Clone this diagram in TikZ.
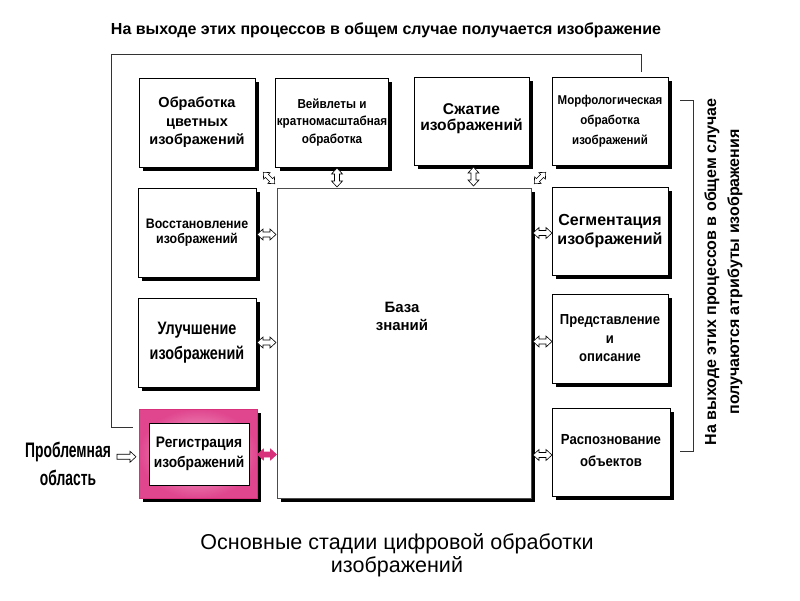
\documentclass[tikz,border=0pt]{standalone}
\usepackage{fontspec}
\setmainfont{Liberation Sans}
\newfontfamily\cnd[FakeStretch=0.9]{Liberation Sans}
\newfontfamily\cnu[FakeStretch=0.8]{Liberation Sans}
\newfontfamily\cndd[FakeStretch=0.66]{Liberation Sans}
\usetikzlibrary{shadows,calc}
\definecolor{pinkA}{HTML}{E0468E}
\definecolor{pinkB}{HTML}{F7C3DC}
\definecolor{pinkC}{HTML}{D9307C}
\tikzset{
  box/.style={draw=black, line width=0.7pt, fill=white, align=center, inner sep=1pt,
    drop shadow={shadow xshift=4pt, shadow yshift=-4pt, fill=black, opacity=1}},
  arrw/.style={draw=black, fill=white, line width=0.6pt, line join=miter},
  dar/.pic={\path[pic actions] (-9.5,0) -- (-3.5,-5.5) -- (-3.5,-2.5) -- (3.5,-2.5) -- (3.5,-5.5) -- (9.5,0)
     -- (3.5,5.5) -- (3.5,2.5) -- (-3.5,2.5) -- (-3.5,5.5) -- cycle;},
  sar/.pic={\path[pic actions] (-9.5,-2.5) -- (3.5,-2.5) -- (3.5,-5.5) -- (9.5,0) -- (3.5,5.5) -- (3.5,2.5)
     -- (-9.5,2.5) -- cycle;},
  frame/.style={draw=black!80, line width=0.8pt},
}
\begin{document}
\begin{tikzpicture}[x=1pt,y=-1pt]
\useasboundingbox[fill=white] (0,0) rectangle (800,600);

% title
\node[font=\fontsize{16}{20}\selectfont\bfseries] (title) at (386,30) {На выходе этих процессов в общем случае получается изображение};

% knowledge base
\node[box, minimum width=254pt, minimum height=310pt, draw=black!70] (kb) at (404,343) {};
\node[font=\fontsize{15}{18}\selectfont\bfseries, align=center] (kbt) at (402,316) {База\\знаний};

% top row
\node[box, font=\fontsize{14.5}{18.5}\selectfont\bfseries, minimum width=116pt, minimum height=89pt] (obr) at (197,122.5) {Обработка\\цветных\\изображений};
\node[box, font=\fontsize{13}{17.5}\selectfont\cnd\bfseries, minimum width=110pt, minimum height=89pt] (veiv) at (332,122.5) {Вейвлеты и\\кратномасштабная\\обработка};
\node[box, font=\fontsize{15.6}{20}\selectfont\bfseries, minimum width=115pt, minimum height=88pt] (szh) at (471.5,121) {\raisebox{8pt}{\shortstack{Сжатие\\[2pt]изображений}}};
\node[box, font=\fontsize{12.8}{20.5}\selectfont\cnd\bfseries, minimum width=116pt, minimum height=88pt] (morf) at (610,121) {\raisebox{-4pt}{\shortstack{Морфологическая\\[5pt]обработка\\[5pt]изображений}}};

% left column
\node[box, font=\fontsize{13.8}{18}\selectfont\cnd\bfseries, minimum width=118pt, minimum height=89pt] (vos) at (197,232.5) {\raisebox{3pt}{\shortstack{Восстановление\\[2pt]изображений}}};
\node[box, font=\fontsize{18}{24.5}\selectfont\cnu\bfseries, minimum width=118pt, minimum height=89pt] (ulu) at (197,342.5) {\raisebox{4pt}{\shortstack{Улучшение\\[5pt]изображений}}};
\node[draw=pinkC, line width=0.6pt, inner color=pinkB, outer color=pinkA, minimum width=118pt, minimum height=89pt,
  drop shadow={shadow xshift=4pt, shadow yshift=-4pt, fill=black, opacity=1}] (reg) at (198,453.5) {};
\node[draw=black, line width=0.7pt, fill=white, align=center, minimum width=100pt, minimum height=62pt,
  font=\fontsize{15.3}{20}\selectfont\cnd\bfseries] (regi) at (199,454) {Регистрация\\изображений};

% right column
\node[box, font=\fontsize{16}{18}\selectfont\bfseries, minimum width=116pt, minimum height=88pt] (seg) at (610,231) {\raisebox{4pt}{\shortstack{Сегментация\\[1pt]изображений}}};
\node[box, font=\fontsize{14.5}{18.5}\selectfont\cnd\bfseries, minimum width=116pt, minimum height=89pt] (pred) at (610,338.5) {Представление\\и\\описание};
\node[box, font=\fontsize{14.6}{27}\selectfont\cnd\bfseries, minimum width=118pt, minimum height=88pt] (rasp) at (611,452) {\raisebox{3pt}{\shortstack{Распознование\\[9pt]объектов}}};

% problem area
\node[font=\fontsize{21}{28}\selectfont\cndd\bfseries, align=center] (prob) at (68,464) {Проблемная\\область};

% right side text
\node[rotate=90, align=center, font=\fontsize{16}{23}\selectfont\bfseries] (side) at (723.5,272) {На выходе этих процессов в общем случае\\получаются атрибуты изображения};

% caption
\node[align=center, font=\fontsize{21.5}{23}\selectfont] (cap) at (397,555) {Основные стадии цифровой обработки\\изображений};

% frame lines
\coordinate (tl) at (111,54);
\coordinate (tr) at (641,54);
\draw[frame] ($(reg.west)+(-6,-26)$) -| (tl) -- (tr) -- ($(morf.north -| tr)+(0,-5)$);
\draw[frame] (680,100) -- (693,100) -- (693,451) -- (680,451);

% arrows left
\pic[arrw] (a1) at ($(vos.east)!0.5!(kb.west |- vos.east)+(0,2)$) {dar};
\pic[arrw] (a2) at ($(ulu.east)!0.5!(kb.west |- ulu.east)$) {dar};
\pic[arrw, fill=pinkC, draw=pinkC] (a3) at ($(reg.east)!0.5!(kb.west |- reg.east)+(0,1)$) {dar};
% arrows right
\pic[arrw] (b1) at ($(seg.west)!0.5!(kb.east |- seg.west)+(1,2)$) {dar};
\pic[arrw] (b2) at ($(pred.west)!0.5!(kb.east |- pred.west)+(1,3)$) {dar};
\pic[arrw] (b3) at ($(rasp.west)!0.5!(kb.east |- rasp.west)+(1,3)$) {dar};
% arrows top
\pic[arrw, rotate=90] (c1) at ($(veiv.south)!0.5!(kb.north -| veiv.south)+(5,0)$) {dar};
\pic[arrw, rotate=90] (c2) at ($(szh.south)!0.5!(kb.north -| szh.south)+(2,0)$) {dar};
% diagonal
\pic[arrw, rotate=-45, scale=0.85] (d1) at (269,178) {dar};
\pic[arrw, rotate=45, scale=0.85] (d2) at (540,178) {dar};
% problem arrow
\pic[arrw] (p1) at ($(prob.east)!0.5!(reg.west)+(0,-2)$) {sar};
\end{tikzpicture}
\end{document}
